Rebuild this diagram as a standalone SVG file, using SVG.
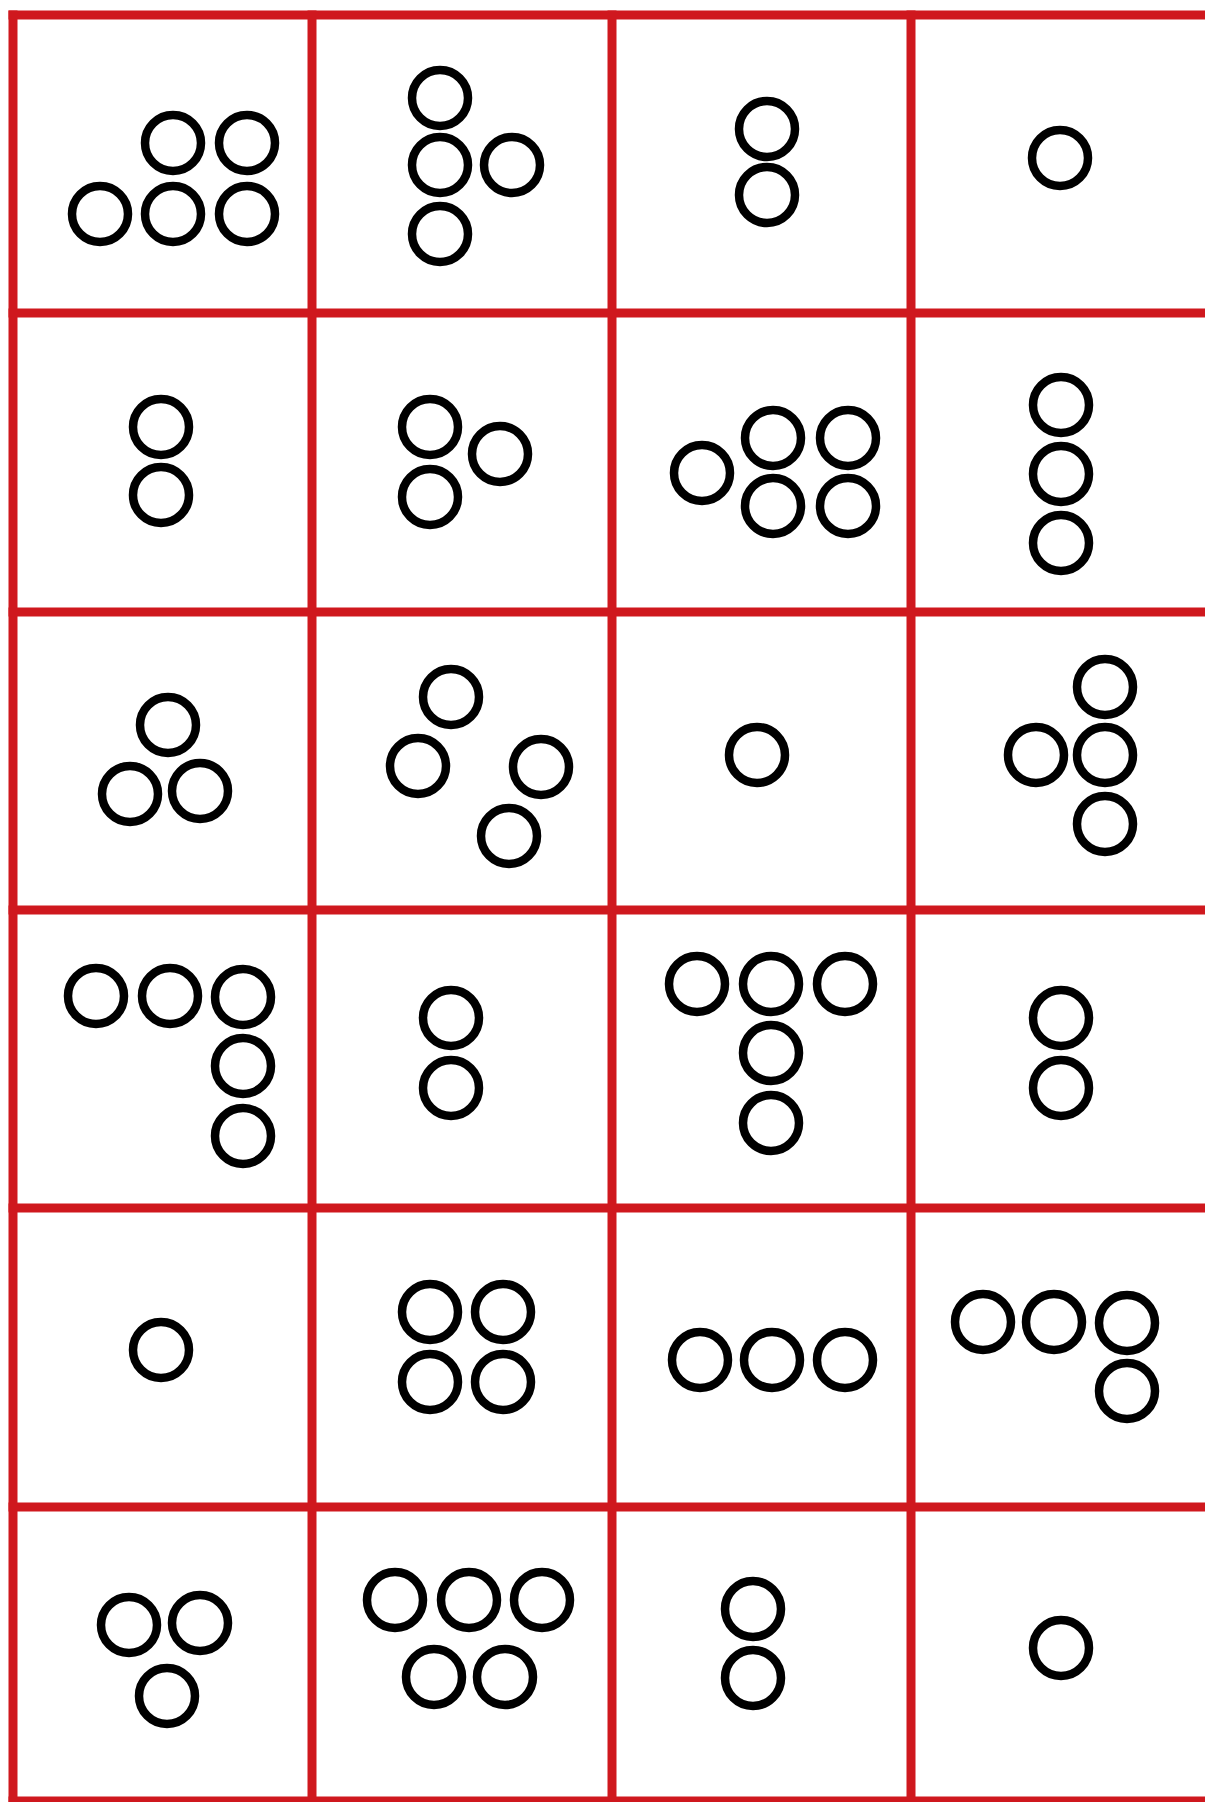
<svg xmlns="http://www.w3.org/2000/svg" width="1205" height="1802" viewBox="0 0 1205 1802">
<style>
.g{stroke:#CF181E;stroke-width:9;fill:none;stroke-linecap:square}
.c{fill:none;stroke:#000;stroke-width:8.5}
</style>
<defs><circle id="o" r="28" class="c"/></defs>
<rect width="1205" height="1802" fill="#fff"/>
<g id="grid" class="g">
<line x1="13" y1="15" x2="1205" y2="15"/>
<line x1="13" y1="313" x2="1205" y2="313"/>
<line x1="13" y1="612" x2="1205" y2="612"/>
<line x1="13" y1="910" x2="1205" y2="910"/>
<line x1="13" y1="1208" x2="1205" y2="1208"/>
<line x1="13" y1="1507" x2="1205" y2="1507"/>
<line x1="13" y1="1801" x2="1205" y2="1801"/>
<line x1="13" y1="15" x2="13" y2="1802"/>
<line x1="312" y1="15" x2="312" y2="1802"/>
<line x1="612" y1="15" x2="612" y2="1802"/>
<line x1="911" y1="15" x2="911" y2="1802"/>
</g>
<g id="cell-r0c0"><use href="#o" x="173" y="143"/><use href="#o" x="247" y="143"/><use href="#o" x="100" y="214"/><use href="#o" x="173" y="214"/><use href="#o" x="247" y="214"/></g>
<g id="cell-r0c1"><use href="#o" x="440" y="98"/><use href="#o" x="440" y="165"/><use href="#o" x="512" y="165"/><use href="#o" x="440" y="234"/></g>
<g id="cell-r0c2"><use href="#o" x="767" y="129"/><use href="#o" x="767" y="195"/></g>
<g id="cell-r0c3"><use href="#o" x="1060" y="158"/></g>
<g id="cell-r1c0"><use href="#o" x="161" y="427"/><use href="#o" x="161" y="495"/></g>
<g id="cell-r1c1"><use href="#o" x="430" y="427"/><use href="#o" x="500" y="454"/><use href="#o" x="430" y="497"/></g>
<g id="cell-r1c2"><use href="#o" x="702" y="473"/><use href="#o" x="773" y="438"/><use href="#o" x="848" y="438"/><use href="#o" x="773" y="506"/><use href="#o" x="848" y="506"/></g>
<g id="cell-r1c3"><use href="#o" x="1061" y="405"/><use href="#o" x="1061" y="474"/><use href="#o" x="1061" y="543"/></g>
<g id="cell-r2c0"><use href="#o" x="168" y="725"/><use href="#o" x="130" y="794"/><use href="#o" x="200" y="791"/></g>
<g id="cell-r2c1"><use href="#o" x="451" y="697"/><use href="#o" x="418" y="766"/><use href="#o" x="541" y="767"/><use href="#o" x="509" y="836"/></g>
<g id="cell-r2c2"><use href="#o" x="757" y="755"/></g>
<g id="cell-r2c3"><use href="#o" x="1105" y="687"/><use href="#o" x="1036" y="755"/><use href="#o" x="1105" y="755"/><use href="#o" x="1105" y="824"/></g>
<g id="cell-r3c0"><use href="#o" x="96" y="996"/><use href="#o" x="170" y="996"/><use href="#o" x="243" y="997"/><use href="#o" x="243" y="1066"/><use href="#o" x="243" y="1136"/></g>
<g id="cell-r3c1"><use href="#o" x="451" y="1018"/><use href="#o" x="451" y="1088"/></g>
<g id="cell-r3c2"><use href="#o" x="697" y="984"/><use href="#o" x="771" y="984"/><use href="#o" x="845" y="984"/><use href="#o" x="771" y="1053"/><use href="#o" x="771" y="1123"/></g>
<g id="cell-r3c3"><use href="#o" x="1061" y="1018"/><use href="#o" x="1061" y="1088"/></g>
<g id="cell-r4c0"><use href="#o" x="161" y="1350"/></g>
<g id="cell-r4c1"><use href="#o" x="430" y="1312"/><use href="#o" x="503" y="1312"/><use href="#o" x="430" y="1382"/><use href="#o" x="503" y="1382"/></g>
<g id="cell-r4c2"><use href="#o" x="700" y="1360"/><use href="#o" x="772" y="1360"/><use href="#o" x="845" y="1360"/></g>
<g id="cell-r4c3"><use href="#o" x="983" y="1322"/><use href="#o" x="1054" y="1322"/><use href="#o" x="1127" y="1323"/><use href="#o" x="1127" y="1391"/></g>
<g id="cell-r5c0"><use href="#o" x="129" y="1625"/><use href="#o" x="200" y="1623"/><use href="#o" x="167" y="1696"/></g>
<g id="cell-r5c1"><use href="#o" x="395" y="1600"/><use href="#o" x="469" y="1600"/><use href="#o" x="542" y="1600"/><use href="#o" x="434" y="1677"/><use href="#o" x="505" y="1677"/></g>
<g id="cell-r5c2"><use href="#o" x="753" y="1609"/><use href="#o" x="753" y="1678"/></g>
<g id="cell-r5c3"><use href="#o" x="1061" y="1648"/></g>
</svg>
